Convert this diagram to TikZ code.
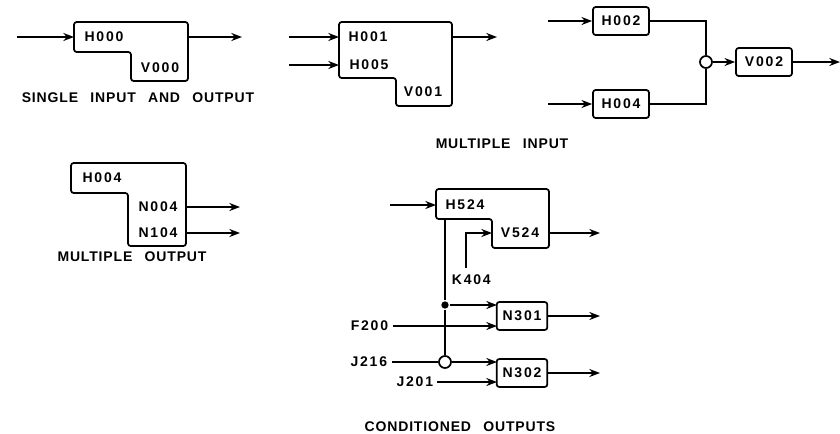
\documentclass[tikz,border=0pt]{standalone}
\usepackage{fontspec}
\setmainfont{Liberation Sans}
\newfontfamily\lblfont[LetterSpace=13]{Liberation Sans}
\newfontfamily\capfont[LetterSpace=6,WordSpace=2.6]{Liberation Sans}
\usetikzlibrary{arrows.meta}
\begin{document}
\begin{tikzpicture}[x=0.75pt,y=-0.75pt,line width=1.3pt,
  wire/.style={-{Stealth[length=8pt,width=6pt]}},
  plain/.style={},
  outline/.style={draw,rounded corners=2pt},
  lbl/.style={font=\lblfont\bfseries\fontsize{10.5}{12}\selectfont,inner sep=0pt},
  captext/.style={font=\capfont\bfseries\fontsize{10.5}{12}\selectfont,inner sep=0pt},
  blk/.style={draw,rounded corners=2pt,inner sep=0pt,minimum width=42pt,minimum height=21pt,font=\lblfont\bfseries\fontsize{10.5}{12}\selectfont},
  junc/.style={draw,circle,fill=white,inner sep=0pt,minimum size=9pt},
  dot/.style={fill,circle,inner sep=0pt,minimum size=5.5pt}]
\useasboundingbox (0,0) rectangle (840,433);

% ---------- single input and output ----------
\draw[outline] (74,22) -- (188,22) -- (188,81) -- (131,81) -- (131,52) -- (74,52) -- cycle;
\node[lbl] (h000) at (104,37) {H000};
\node[lbl] (v000) at (160,68) {V000};
\coordinate (s-in) at (74,37);
\coordinate (s-out) at (188,37);
\coordinate (s-src) at (17,37);
\coordinate (s-dst) at (242,37);
\draw[wire] (s-src) -- (s-in);
\draw[wire] (s-out) -- (s-dst);
\node[captext] (cap1) at (138,98) {SINGLE INPUT AND OUTPUT};

% ---------- multiple input ----------
\draw[outline] (339,22) -- (452,22) -- (452,106) -- (396,106) -- (396,78) -- (339,78) -- cycle;
\node[lbl] (h001) at (368,37) {H001};
\node[lbl] (h005) at (369,65) {H005};
\node[lbl] (v001) at (423,92) {V001};
\coordinate (m-in1) at (339,37);
\coordinate (m-in2) at (339,65);
\coordinate (m-src1) at (289,37);
\coordinate (m-src2) at (289,65);
\coordinate (m-out) at (452,37);
\coordinate (m-dst) at (497,37);
\draw[wire] (m-src1) -- (m-in1);
\draw[wire] (m-src2) -- (m-in2);
\draw[wire] (m-out) -- (m-dst);
\node[captext] (cap2) at (502,144) {MULTIPLE INPUT};

\node[blk] (h002) at (621,21) {H002};
\node[blk] (h004) at (621,104) {H004};
\node[junc] (j1) at (706,62) {};
\node[blk] (v002) at (764,62) {V002};
\coordinate (h002-src) at (548,21);
\coordinate (h004-src) at (548,104);
\coordinate (v002-dst) at (840,62);
\draw[wire] (h002-src) -- (h002);
\draw[wire] (h004-src) -- (h004);
\draw[plain] (h002.east) -| (j1.north);
\draw[plain] (h004.east) -| (j1.south);
\draw[wire] (j1) -- (v002);
\draw[wire] (v002) -- (v002-dst);

% ---------- multiple output ----------
\draw[outline] (71,163) -- (186,163) -- (186,246) -- (128,246) -- (128,193) -- (71,193) -- cycle;
\node[lbl] (h004b) at (102,178) {H004};
\node[lbl] (n004) at (158,207) {N004};
\node[lbl] (n104) at (158,233) {N104};
\coordinate (o-out1) at (186,207);
\coordinate (o-out2) at (186,233);
\coordinate (o-dst1) at (240,207);
\coordinate (o-dst2) at (240,233);
\draw[wire] (o-out1) -- (o-dst1);
\draw[wire] (o-out2) -- (o-dst2);
\node[captext] (cap3) at (132,257) {MULTIPLE OUTPUT};

% ---------- conditioned outputs ----------
\draw[outline] (436,189) -- (549,189) -- (549,248) -- (492,248) -- (492,219) -- (436,219) -- cycle;
\node[lbl] (h524) at (465,205) {H524};
\node[lbl] (v524) at (520,233) {V524};
\coordinate (c-in) at (436,205);
\coordinate (c-src) at (390,205);
\coordinate (c-out) at (549,233);
\coordinate (c-dst) at (600,233);
\draw[wire] (c-src) -- (c-in);
\draw[wire] (c-out) -- (c-dst);
\node[lbl,anchor=west] (k404) at (451,280) {K404};
\coordinate (k-bot) at (466,268);
\coordinate (k-in) at (492,233);
\draw[wire] (k-bot) |- (k-in);

\node[blk,minimum width=38pt] (n301) at (522,316) {N301};
\node[blk,minimum width=38pt] (n302) at (522,373) {N302};
\coordinate (c-stem) at (445,219);
\node[dot] (d1) at (445,305) {};
\node[junc] (j2) at (445,362) {};
\draw[plain] (c-stem) -- (d1) -- (j2);
\coordinate (n301-a) at (497,305);
\coordinate (n301-b) at (497,326);
\coordinate (n302-a) at (497,362);
\coordinate (n302-b) at (497,382);
\draw[wire] (d1) -- (n301-a);
\node[lbl,anchor=east] (f200) at (389,326) {F200};
\coordinate (f200-s) at (393,326);
\draw[wire] (f200-s) -- (n301-b);
\node[lbl,anchor=east] (j216) at (388,362) {J216};
\coordinate (j216-s) at (392,362);
\draw[plain] (j216-s) -- (j2);
\draw[wire] (j2) -- (n302-a);
\node[lbl,anchor=east] (j201) at (434,382) {J201};
\coordinate (j201-s) at (437,382);
\draw[wire] (j201-s) -- (n302-b);
\coordinate (n301-dst) at (600,316);
\coordinate (n302-dst) at (600,373);
\draw[wire] (n301) -- (n301-dst);
\draw[wire] (n302) -- (n302-dst);
\node[captext] (cap4) at (460,427) {CONDITIONED OUTPUTS};
\end{tikzpicture}
\end{document}
